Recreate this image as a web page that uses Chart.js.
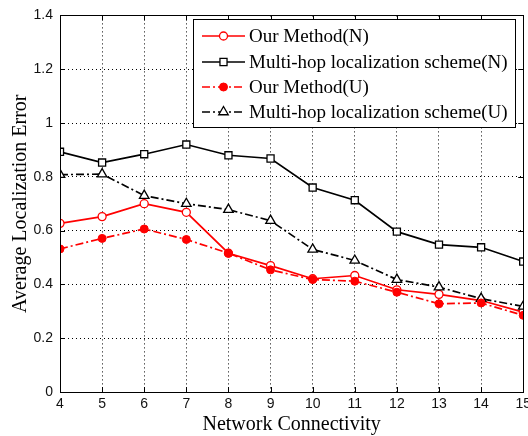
<!DOCTYPE html>
<html>
<head>
<meta charset="utf-8">
<script src="https://cdn.jsdelivr.net/npm/chart.js@4/dist/chart.umd.min.js"></script>
<style>
  html, body { margin: 0; padding: 0; background: #fff; overflow: hidden; }
  #wrap { position: relative; width: 535px; height: 436px; }
</style>
</head>
<body>
<div id="wrap"><canvas id="c"></canvas></div>
<script>
// Network connectivity values on the x axis
const connectivity = [4, 5, 6, 7, 8, 9, 10, 11, 12, 13, 14, 15];

// Average localization error for each method
const ourMethodN = [0.627, 0.652, 0.700, 0.668, 0.516, 0.470, 0.421, 0.433, 0.380, 0.363, 0.340, 0.297];
const multiHopN  = [0.893, 0.853, 0.884, 0.920, 0.880, 0.868, 0.760, 0.713, 0.596, 0.548, 0.538, 0.485];
const ourMethodU = [0.532, 0.571, 0.606, 0.567, 0.516, 0.454, 0.418, 0.412, 0.371, 0.328, 0.331, 0.285];
const multiHopU  = [0.808, 0.810, 0.730, 0.700, 0.678, 0.637, 0.530, 0.489, 0.418, 0.390, 0.347, 0.318];

const seriesNames = [
  'Our Method(N)',
  'Multi-hop localization scheme(N)',
  'Our Method(U)',
  'Multi-hop localization scheme(U)'
];

const yTicks = [0, 0.2, 0.4, 0.6, 0.8, 1, 1.2, 1.4];
const yTickLabels = ['0', '0.2', '0.4', '0.6', '0.8', '1', '1.2', '1.4'];

const dashDot = [8, 3, 2, 3];

function pts(values) {
  return connectivity.map((x, i) => ({ x: x, y: values[i] }));
}

const datasets = [
  {
    label: seriesNames[0], data: pts(ourMethodN),
    borderColor: '#ff0000', borderWidth: 1.7, borderDash: [],
    pointStyle: 'circle', pointRadius: 4, pointBorderWidth: 1.3,
    pointBackgroundColor: '#ffffff', pointBorderColor: '#ff0000', order: 3
  },
  {
    label: seriesNames[1], data: pts(multiHopN),
    borderColor: '#000000', borderWidth: 1.7, borderDash: [],
    pointStyle: 'rect', pointRadius: 5, pointBorderWidth: 1.3,
    pointBackgroundColor: '#ffffff', pointBorderColor: '#000000', order: 4
  },
  {
    label: seriesNames[2], data: pts(ourMethodU),
    borderColor: '#ff0000', borderWidth: 1.7, borderDash: dashDot,
    pointStyle: 'circle', pointRadius: 4, pointBorderWidth: 1,
    pointBackgroundColor: '#ff0000', pointBorderColor: '#ff0000', order: 1
  },
  {
    label: seriesNames[3], data: pts(multiHopU),
    borderColor: '#000000', borderWidth: 1.7, borderDash: dashDot,
    pointStyle: 'triangle', pointRadius: 5.5, pointBorderWidth: 1.3,
    pointBackgroundColor: '#ffffff', pointBorderColor: '#000000', order: 2
  }
];

// Plot frame with inward tick marks on all four sides
const framePlugin = {
  id: 'frame',
  afterDatasetsDraw(chart) {
    const { ctx, chartArea: a, scales } = chart;
    ctx.save();
    ctx.strokeStyle = '#000';
    ctx.lineWidth = 1;
    ctx.setLineDash([]);
    const len = 5;
    ctx.beginPath();
    connectivity.forEach(v => {
      const x = Math.round(scales.x.getPixelForValue(v)) + 0.5;
      ctx.moveTo(x, a.bottom); ctx.lineTo(x, a.bottom - len);
      ctx.moveTo(x, a.top); ctx.lineTo(x, a.top + len);
    });
    yTicks.forEach(v => {
      const y = Math.round(scales.y.getPixelForValue(v)) + 0.5;
      ctx.moveTo(a.left, y); ctx.lineTo(a.left + len, y);
      ctx.moveTo(a.right, y); ctx.lineTo(a.right - len, y);
    });
    ctx.stroke();
    ctx.strokeRect(Math.round(a.left) + 0.5, Math.round(a.top) + 0.5,
                   Math.round(a.right - a.left), Math.round(a.bottom - a.top));
    ctx.restore();
  }
};

// Boxed legend in the upper right of the plot
const boxLegendPlugin = {
  id: 'boxLegend',
  afterDraw(chart) {
    const { ctx } = chart;
    const bx = 193, by = 19, bw = 322, bh = 108;
    ctx.save();
    ctx.fillStyle = '#fff';
    ctx.fillRect(bx, by, bw, bh);
    ctx.strokeStyle = '#000';
    ctx.lineWidth = 1;
    ctx.setLineDash([]);
    ctx.strokeRect(bx + 0.5, by + 0.5, bw, bh);
    const rows = [36, 62, 87, 112];
    chart.data.datasets.forEach((ds, i) => {
      const y = rows[i];
      ctx.strokeStyle = ds.borderColor;
      ctx.lineWidth = ds.borderWidth;
      ctx.setLineDash(ds.borderDash);
      ctx.beginPath();
      ctx.moveTo(202, y); ctx.lineTo(245, y);
      ctx.stroke();
      ctx.setLineDash([]);
      ctx.fillStyle = ds.pointBackgroundColor;
      ctx.strokeStyle = ds.pointBorderColor;
      ctx.lineWidth = ds.pointBorderWidth;
      Chart.helpers.drawPoint(ctx, { pointStyle: ds.pointStyle, radius: ds.pointRadius, rotation: 0, borderWidth: ds.pointBorderWidth }, 223.5, y);
      ctx.fillStyle = '#000';
      ctx.font = '19px "Liberation Serif", "Times New Roman", serif';
      ctx.textAlign = 'left';
      ctx.textBaseline = 'middle';
      ctx.fillText(ds.label, 249, y + 1);
    });
    ctx.restore();
  }
};

new Chart(document.getElementById('c'), {
  type: 'line',
  data: { datasets: datasets },
  options: {
    responsive: true,
    maintainAspectRatio: false,
    animation: false,
    layout: { padding: { top: 13, right: 10, left: 0, bottom: 0 } },
    plugins: { legend: { display: false }, tooltip: { enabled: false } },
    elements: { line: { tension: 0, fill: false } },
    scales: {
      x: {
        type: 'linear', min: 4, max: 15,
        afterFit(s) { s.height = 44; },
        ticks: {
          stepSize: 1, padding: 4, color: '#111', maxRotation: 0,
          font: { family: '"Liberation Sans", Arial, sans-serif', size: 14 }
        },
        grid: { color: '#000', lineWidth: 1, drawTicks: false },
        border: { display: false, dash: [1, 3] },
        title: {
          display: true, text: 'Network Connectivity', color: '#000',
          padding: { top: 0, bottom: 0 },
          font: { family: '"Liberation Serif", "Times New Roman", serif', size: 20, lineHeight: 1.1 }
        }
      },
      y: {
        type: 'linear', min: 0, max: 1.4,
        afterFit(s) { s.width = 60; },
        afterBuildTicks(s) { s.ticks = yTicks.map(v => ({ value: v })); },
        ticks: {
          padding: 7, color: '#111',
          callback: (v, i) => yTickLabels[i],
          font: { family: '"Liberation Sans", Arial, sans-serif', size: 14 }
        },
        grid: { color: '#000', lineWidth: 1, drawTicks: false },
        border: { display: false, dash: [1, 3] },
        title: {
          display: true, text: 'Average Localization Error', color: '#000',
          padding: { top: 9, bottom: 0 },
          font: { family: '"Liberation Serif", "Times New Roman", serif', size: 20, lineHeight: 1.2 }
        }
      }
    }
  },
  plugins: [framePlugin, boxLegendPlugin]
});
</script>
</body>
</html>
